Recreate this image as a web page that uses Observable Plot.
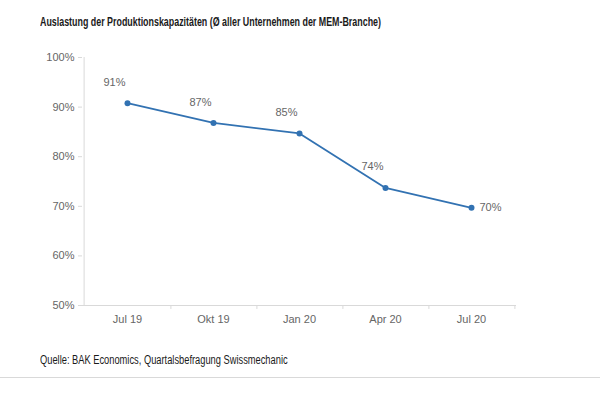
<!DOCTYPE html>
<html>
<head>
<meta charset="utf-8">
<script src="https://cdn.jsdelivr.net/npm/d3@7"></script>
<script src="https://cdn.jsdelivr.net/npm/@observablehq/plot@0.6"></script>
<style>
  html, body { margin: 0; padding: 0; background: #fff; }
  body { width: 600px; height: 395px; position: relative; overflow: hidden;
         font-family: "Liberation Sans", Arial, sans-serif; }
  .txt { position: absolute; left: 40px; white-space: nowrap; transform: scaleX(0.775); transform-origin: left center; color: #1a1a1a; font-size: 12px; }
  #title { top: 15px; font-weight: bold; transform: scaleX(0.74); }
  #chart { position: absolute; left: 0; top: 40px; }
  #caption { top: 353px; }
  #rule { position: absolute; left: 0; top: 377px; width: 600px; height: 1px; background: #d9d9d9; }
</style>
</head>
<body>
<div id="title" class="txt">Auslastung der Produktionskapazitäten (Ø aller Unternehmen der MEM-Branche)</div>
<div id="chart"></div>
<div id="caption" class="txt">Quelle: BAK Economics, Quartalsbefragung Swissmechanic</div>
<div id="rule"></div>
<script>
const categories = ["Jul 19", "Okt 19", "Jan 20", "Apr 20", "Jul 20"];
const values = [90.8, 86.8, 84.7, 73.7, 69.7];
const labels = ["91%", "87%", "85%", "74%", "70%"];
const yTicks = [50, 60, 70, 80, 90, 100];

const data = categories.map((c, i) => ({ cat: c, value: values[i], label: labels[i], i }));

const W = 600, H = 300, mL = 82, mR = 84;
const step = (W - mL - mR) / categories.length;
const lineColor = "#3272b2";
const axisColor = "#d9d9d9";
const textColor = "#666666";

const plot = Plot.plot({
  width: W,
  height: H,
  marginLeft: mL,
  marginRight: mR,
  marginTop: 17,
  marginBottom: 35,
  style: { fontFamily: '"Liberation Sans", Arial, sans-serif', fontSize: "11px", color: textColor, background: "#fff", overflow: "visible" },
  x: { type: "band", domain: categories, padding: 0, tickSize: 0, tickPadding: 10, label: null },
  y: { type: "linear", domain: [50, 100], ticks: yTicks, tickFormat: d => d + "%", tickSize: 4, tickPadding: 4, label: null },
  marks: [
    Plot.ruleY([50], { stroke: axisColor }),
    Plot.ruleX([categories[0]], { x: d => d, y1: 50, y2: 100, stroke: axisColor, dx: -step / 2 }),
    Plot.ruleX(categories, { x: d => d, y1: 50, y2: 49.2, stroke: axisColor, dx: step / 2 }),
    Plot.line(data, { x: "cat", y: "value", stroke: lineColor, strokeWidth: 1.8 }),
    Plot.dot(data, { x: "cat", y: "value", fill: lineColor, r: 3 }),
    Plot.text(data.filter(d => d.i < 4), { x: "cat", y: "value", text: "label", dx: -13, dy: -21, fill: textColor, fontSize: 11 }),
    Plot.text(data.filter(d => d.i === 4), { x: "cat", y: "value", text: "label", dx: 8, dy: 0, textAnchor: "start", fill: textColor, fontSize: 11 })
  ]
});
document.getElementById("chart").appendChild(plot);
d3.select(plot).selectAll("g[aria-label='y-axis'] path, g[aria-label='y-axis tick'] path").attr("stroke", axisColor);
</script>
</body>
</html>
